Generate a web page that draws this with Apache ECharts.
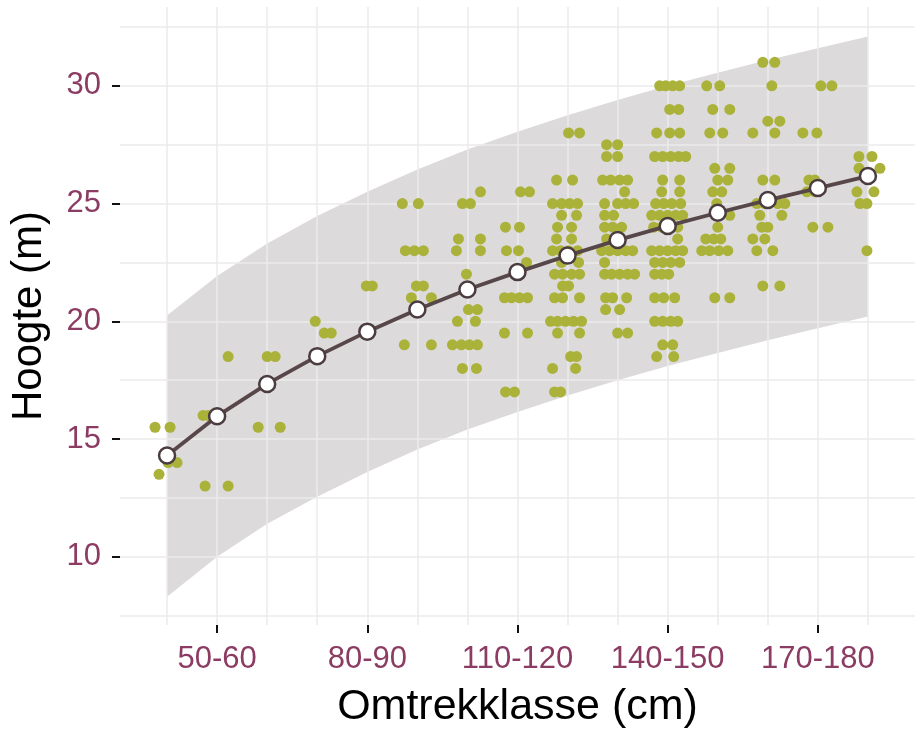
<!DOCTYPE html>
<html>
<head>
<meta charset="utf-8">
<script src="https://cdn.jsdelivr.net/npm/echarts@6/dist/echarts.min.js"></script>
<style>
html,body{margin:0;padding:0;background:#fff;}
#chart{width:917px;height:731px;}
</style>
</head>
<body>
<div id="chart"></div>
<script>
// Girth classes (cm)
const categories = ['40-50','50-60','60-70','70-80','80-90','90-100','100-110','110-120','120-130','130-140','140-150','150-160','160-170','170-180','180-190'];
// Labelled classes (indices into categories)
const labelledClasses = [1, 4, 7, 10, 13];
// Y tick labels (m)
const yTicks = [10, 15, 20, 25, 30];
// Horizontal grid values (m)
const yGrid = [7.5, 10, 12.5, 15, 17.5, 20, 22.5, 25, 27.5, 30, 32.5];
// Fitted height per class (m)
const fittedHeight = [14.3, 15.97, 17.34, 18.52, 19.56, 20.5, 21.35, 22.09, 22.79, 23.45, 24.05, 24.61, 25.15, 25.66, 26.17];
// Prediction band (m)
const bandUpper = [20.25, 21.92, 23.3, 24.47, 25.5, 26.45, 27.3, 28.05, 28.75, 29.4, 30.0, 30.56, 31.1, 31.6, 32.1];
const bandLower = [8.3, 10.0, 11.4, 12.55, 13.6, 14.55, 15.4, 16.15, 16.85, 17.5, 18.1, 18.65, 19.2, 19.7, 20.2];
// Measured trees: [class index, horizontal jitter (class units), height (m)]
const trees = [
  [0,-0.24,15.5],[0,0.06,15.5],[0,-0.16,13.5],[0,0.02,14],[0,0.2,14],
  [1,-0.28,16],[1,-0.18,16],[1,-0.24,13],[1,0.22,13],[1,0.22,18.5],
  [2,0,18.5],[2,0.16,18.5],[2,-0.18,15.5],[2,0.26,15.5],
  [3,-0.04,20],[3,0.14,19.5],[3,0.28,19.5],
  [4,-0.02,21.5],[4,0.1,21.5],
  [5,-0.3,25],[5,0.02,25],[5,-0.24,23],[5,-0.06,23],[5,0.12,23],[5,-0.02,21.5],[5,0.12,21.5],[5,-0.12,21],[5,0.28,21],[5,-0.26,19],[5,0.28,19],
  [6,-0.1,25],[6,0.06,25],[6,0.26,25.5],[6,-0.18,23.5],[6,0.26,23.5],[6,-0.22,23],[6,0.26,23],[6,-0.02,22],[6,0.02,20.5],[6,0.2,20.5],[6,-0.2,20],[6,0.16,20],[6,-0.3,19],[6,-0.12,19],[6,0.04,19],[6,0.2,19],[6,-0.1,18],[6,0.18,18],
  [7,0.06,25.5],[7,0.24,25.5],[7,-0.24,24],[7,0.04,24],[7,-0.22,23],[7,0.02,23],[7,0.18,22.5],[7,-0.26,21],[7,-0.12,21],[7,0.04,21],[7,0.2,21],[7,-0.26,19.5],[7,0.2,19.5],[7,-0.24,17],[7,-0.06,17],
  [8,0.02,28],[8,0.24,28],[8,-0.22,26],[8,0.1,26],[8,-0.3,25],[8,-0.12,25],[8,0.04,25],[8,0.2,25],[8,-0.12,24.5],[8,0.18,24.5],[8,-0.2,24],[8,0.08,24],[8,-0.22,23.5],[8,0.08,23.5],
  [8,-0.3,23],[8,-0.14,23],[8,0.02,23],[8,0.2,23],[8,-0.12,22.5],[8,0.22,22.5],[8,-0.26,22],[8,-0.1,22],[8,0.08,22],[8,0.24,22],[8,-0.1,21.5],[8,0.02,21.5],[8,-0.26,21],[8,-0.1,21],[8,0.24,21],
  [8,-0.34,20],[8,-0.2,20],[8,-0.04,20],[8,0.12,20],[8,0.28,20],[8,-0.2,19.5],[8,0.24,19.5],[8,0.06,18.5],[8,0.18,18.5],[8,-0.3,18],[8,0.16,18],[8,-0.26,17],[8,-0.14,17],
  [9,-0.22,27.5],[9,0,27.5],[9,-0.22,27],[9,0,27],[9,-0.3,26],[9,-0.14,26],[9,0.04,26],[9,0.2,26],[9,0.14,25.5],[9,-0.26,25],[9,0,25],[9,0.16,25],[9,0.32,25],[9,-0.26,24.5],[9,-0.08,24.5],
  [9,-0.26,24],[9,-0.1,24],[9,0.08,24],[9,-0.22,23.5],[9,-0.32,23],[9,-0.16,23],[9,0,23],[9,0.16,23],[9,0.3,23],[9,-0.26,22.5],[9,-0.26,22],[9,-0.12,22],[9,0.04,22],[9,0.2,22],[9,0.34,22],
  [9,-0.24,21],[9,-0.1,21],[9,0.18,21],[9,-0.24,20.5],[9,0.04,20.5],[9,0,19.5],[9,0.2,19.5],
  [10,-0.16,30],[10,-0.04,30],[10,0.1,30],[10,0.24,30],[10,0.04,29],[10,0.22,29],[10,-0.22,28],[10,0.04,28],[10,0.24,28],[10,-0.26,27],[10,-0.1,27],[10,0.06,27],[10,0.22,27],[10,0.36,27],
  [10,-0.1,26],[10,0.24,26],[10,-0.12,25.5],[10,0.24,25.5],[10,-0.24,25],[10,-0.08,25],[10,0.08,25],[10,0.26,25],[10,-0.32,24.5],[10,-0.16,24.5],[10,0,24.5],[10,0.16,24.5],[10,0.3,24.5],
  [10,-0.28,24],[10,-0.12,24],[10,0.04,24],[10,0.2,24],[10,0.2,23.5],[10,-0.32,23],[10,-0.16,23],[10,0,23],[10,0.16,23],[10,0.3,23],[10,-0.26,22.5],[10,-0.1,22.5],[10,0.06,22.5],[10,0.24,22.5],
  [10,-0.26,22],[10,-0.12,22],[10,0.02,22],[10,-0.26,21],[10,-0.08,21],[10,0.14,21],[10,-0.26,20],[10,-0.1,20],[10,0.06,20],[10,0.2,20],[10,-0.1,19],[10,0.1,19],[10,-0.22,18.5],[10,0.12,18.5],
  [11,-0.22,30],[11,0.04,30],[11,-0.1,29],[11,0.24,29],[11,-0.16,28],[11,0.1,28],[11,-0.06,26.5],[11,0.24,26.5],[11,0,26],[11,0.2,26],[11,-0.1,25.5],[11,0.08,25.5],[11,-0.02,25],[11,0.24,24.5],[11,0,24],
  [11,-0.24,23.5],[11,-0.08,23.5],[11,0.06,23.5],[11,-0.32,23],[11,-0.16,23],[11,0.02,23],[11,0.2,23],[11,-0.06,21],[11,0.24,21],
  [12,-0.1,31],[12,0.14,31],[12,0.08,30],[12,0,28.5],[12,0.24,28.5],[12,-0.3,28],[12,0.14,28],[12,-0.1,26],[12,0.14,26],[12,-0.22,25],[12,-0.06,25],[12,0.2,25],[12,0.34,25],[12,-0.16,24.5],[12,0.28,24.5],
  [12,-0.12,24],[12,0,24],[12,-0.3,23.5],[12,-0.06,23.5],[12,-0.22,23],[12,0.1,23],[12,-0.1,21.5],[12,0.24,21.5],
  [13,0.06,30],[13,0.28,30],[13,-0.3,28],[13,-0.02,28],[13,-0.18,26],[13,-0.06,26],[13,-0.22,25.5],[13,-0.06,25.5],[13,-0.1,24],[13,0.2,24],
  [14,-0.18,27],[14,0.08,27],[14,-0.18,26.5],[14,0.24,26.5],[14,-0.22,25.5],[14,0.12,25.5],[14,-0.16,25],[14,-0.02,25],[14,-0.02,23]
];

const FONT = 'Liberation Sans, Arial, Helvetica, sans-serif';
const LABEL_COLOR = '#8C3B63';
const GRID_COLOR = '#ebebeb';

const chart = echarts.init(document.getElementById('chart'), null, {renderer: 'canvas'});

const option = {
  animation: false,
  backgroundColor: '#ffffff',
  grid: {left: 120, right: 2, top: 7, bottom: 106, containLabel: false, outerBoundsMode: 'none'},
  xAxis: {
    type: 'value',
    min: -0.94,
    max: 14.94,
    name: 'Omtrekklasse (cm)',
    nameLocation: 'middle',
    nameGap: 61,
    nameTextStyle: {fontFamily: FONT, fontSize: 43, color: '#000'},
    axisLine: {show: false, onZero: false},
    splitLine: {show: false},
    axisTick: {show: true, customValues: labelledClasses, length: 8, lineStyle: {color: '#111', width: 2}},
    axisLabel: {
      customValues: labelledClasses,
      formatter: function (v) { return categories[Math.round(v)]; },
      fontFamily: FONT, fontSize: 31, color: LABEL_COLOR, margin: 19
    }
  },
  yAxis: {
    type: 'value',
    min: 7.1,
    max: 33.35,
    name: 'Hoogte (m)',
    nameLocation: 'middle',
    nameGap: 70,
    nameTextStyle: {fontFamily: FONT, fontSize: 42, color: '#000'},
    axisLine: {show: false, onZero: false},
    splitLine: {show: false},
    axisTick: {show: true, customValues: yTicks, length: 8, lineStyle: {color: '#111', width: 2}},
    axisLabel: {
      customValues: yTicks,
      fontFamily: FONT, fontSize: 31, color: LABEL_COLOR, margin: 19
    }
  },
  series: [
    {
      type: 'custom',
      z: 1,
      silent: true,
      data: categories.map(function (c, i) { return [i, bandUpper[i], bandLower[i]]; }),
      encode: {x: 0, y: [1, 2]},
      renderItem: function (params, api) {
        if (params.dataIndex !== 0) return null;
        const pts = [];
        for (let i = 0; i < categories.length; i++) pts.push(api.coord([i, bandUpper[i]]));
        for (let i = categories.length - 1; i >= 0; i--) pts.push(api.coord([i, bandLower[i]]));
        return {type: 'polygon', shape: {points: pts}, style: {fill: '#dddadc'}};
      },
      markLine: {
        z: 2,
        silent: true,
        symbol: ['none', 'none'],
        label: {show: false},
        emphasis: {disabled: true},
        lineStyle: {color: GRID_COLOR, width: 1.5, type: 'solid'},
        data: categories.map(function (c, i) { return {xAxis: i}; })
          .concat(yGrid.map(function (v) { return {yAxis: v}; }))
      }
    },
    {
      type: 'scatter',
      z: 3,
      silent: true,
      symbol: 'circle',
      symbolSize: 11,
      itemStyle: {color: '#AAB23A', opacity: 1},
      data: trees.map(function (t) { return [t[0] + t[1], t[2]]; })
    },
    {
      type: 'line',
      z: 4,
      silent: true,
      data: categories.map(function (c, i) { return [i, fittedHeight[i]]; }),
      symbol: 'circle',
      symbolSize: 16,
      lineStyle: {color: '#574749', width: 3.8},
      itemStyle: {color: '#ffffff', borderColor: '#4a3c3f', borderWidth: 2.5}
    }
  ]
};
chart.setOption(option);
</script>
</body>
</html>
